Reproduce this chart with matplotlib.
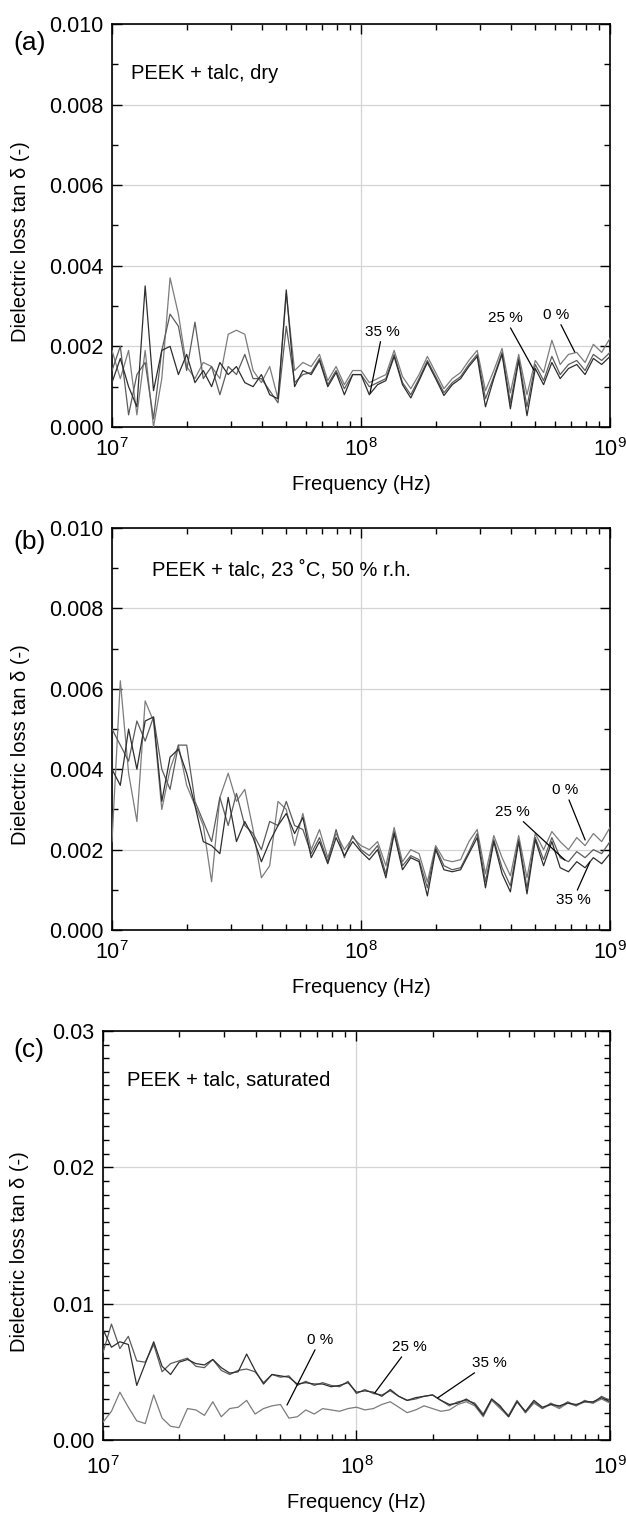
import numpy as np
import matplotlib
matplotlib.use("Agg")
import matplotlib.pyplot as plt
from matplotlib.ticker import LogLocator, MultipleLocator, NullFormatter, FormatStrFormatter

plt.rcParams['font.family'] = ['Liberation Sans', 'DejaVu Sans']
plt.rcParams['mathtext.fontset'] = 'custom'
plt.rcParams['mathtext.rm'] = 'Liberation Sans'
plt.rcParams['mathtext.it'] = 'Liberation Sans:italic'

# measurement grid (MHz)
freq_mhz = [10.0, 10.8, 11.66, 12.59, 13.59, 14.68, 15.85, 17.11, 18.48, 19.95,
            21.54, 23.26, 25.12, 27.12, 29.29, 31.62, 34.15, 36.87, 39.81, 42.99,
            46.42, 50.12, 54.12, 58.43, 63.1, 68.13, 73.56, 79.43, 85.77, 92.61,
            100.0, 108.0, 116.6, 125.9, 135.9, 146.8, 158.5, 171.1, 184.8, 199.5,
            215.4, 232.6, 251.2, 271.2, 292.9, 316.2, 341.5, 368.7, 398.1, 429.9,
            464.2, 501.2, 541.2, 584.3, 631.0, 681.3, 735.6, 794.3, 857.7, 926.1,
            1000.0]

# tan delta values in units of 1e-3
# (a) dry
a_0 = [1.9, 1.2, 1.9, 0.3, 1.9, 0.0, 1.2, 3.7, 2.8, 1.5, 1.2, 1.6, 1.5, 1.2, 2.3, 2.4,
       2.3, 1.4, 1.1, 1.5, 0.7, 3.3, 1.4, 1.6,
       1.5, 1.8, 1.15, 1.5, 1.05, 1.4, 1.4, 1.1, 1.2, 1.3, 1.9, 1.25, 0.95, 1.3, 1.75,
       1.35, 0.95, 1.2, 1.35, 1.65, 1.9, 0.9, 1.4, 1.95, 0.85, 1.8, 0.8, 1.65, 1.35,
       2.15, 1.55, 1.8, 1.85, 1.6, 2.05, 1.85, 2.2]
a_25 = [1.4, 2.0, 0.3, 1.3, 1.6, 0.2, 1.9, 2.8, 2.5, 1.4, 2.6, 1.2, 1.5, 0.8, 1.5, 1.3,
        1.8, 1.2, 1.2, 0.9, 0.6, 2.5, 1.1, 1.3,
        1.35, 1.7, 1.05, 1.4, 0.95, 1.3, 1.3, 1.0, 1.1, 1.2, 1.8, 1.1, 0.8, 1.2, 1.65,
        1.25, 0.85, 1.1, 1.25, 1.55, 1.8, 0.7, 1.25, 1.85, 0.6, 1.7, 0.5, 1.55, 1.15,
        1.75, 1.3, 1.55, 1.65, 1.4, 1.8, 1.65, 1.85]
a_35 = [1.1, 1.7, 1.0, 0.5, 3.5, 0.9, 1.9, 2.0, 1.3, 1.8, 1.1, 1.4, 1.0, 1.6, 1.3, 1.5,
        1.1, 1.0, 1.3, 0.8, 0.7, 3.4, 1.0, 1.4,
        1.3, 1.65, 1.0, 1.35, 0.8, 1.3, 1.3, 0.8, 1.05, 1.15, 1.75, 1.05, 0.72, 1.15, 1.6,
        1.2, 0.78, 1.05, 1.2, 1.5, 1.75, 0.5, 1.2, 1.8, 0.45, 1.65, 0.28, 1.45, 1.05,
        1.6, 1.2, 1.45, 1.55, 1.3, 1.7, 1.55, 1.75]

# (b) 23 C, 50 % r.h.
b_0 = [2.2, 6.2, 3.9, 2.7, 5.7, 5.2, 3.0, 4.0, 4.6, 3.6, 3.1, 2.6, 1.2, 3.3, 3.9, 3.2,
       3.5, 2.5, 1.3, 1.6, 3.2, 3.0, 2.1, 2.9,
       2.0, 2.5, 1.8, 2.4, 2.0, 2.3, 2.1, 2.0, 2.2, 1.6, 2.55, 1.7, 2.0, 1.9, 1.2, 2.1,
       1.75, 1.7, 1.75, 2.2, 2.5, 1.4, 2.35, 1.8, 1.35, 2.35, 1.3, 2.4, 2.0, 2.45,
       2.2, 2.0, 2.3, 2.1, 2.4, 2.2, 2.55]
b_25 = [5.0, 4.6, 4.2, 5.2, 4.7, 5.3, 4.0, 3.5, 4.6, 4.6, 3.2, 2.7, 2.2, 3.3, 2.6, 3.4,
        2.6, 2.4, 2.0, 2.7, 2.6, 3.2, 2.6, 2.5,
        1.9, 2.3, 1.7, 2.5, 1.8, 2.35, 2.0, 1.85, 2.1, 1.4, 2.45, 1.6, 1.85, 1.75, 1.05,
        2.05, 1.6, 1.5, 1.55, 1.95, 2.4, 1.2, 2.25, 1.55, 1.1, 2.25, 1.05, 2.3, 1.75, 2.3,
        1.8, 1.7, 1.95, 1.8, 2.0, 1.9, 2.2]
b_35 = [4.0, 3.6, 5.0, 4.0, 5.2, 5.3, 3.2, 4.3, 4.5, 3.9, 3.1, 2.2, 2.1, 1.9, 3.3, 2.2,
        2.7, 2.3, 1.7, 2.2, 2.6, 2.9, 2.4, 2.8,
        1.8, 2.2, 1.65, 2.3, 1.85, 2.2, 1.95, 1.75, 2.0, 1.3, 2.4, 1.5, 1.8, 1.7, 0.85,
        2.0, 1.5, 1.45, 1.5, 1.9, 2.3, 1.05, 2.2, 1.4, 0.95, 2.2, 0.9, 2.25, 1.6, 2.2,
        1.55, 1.45, 1.7, 1.55, 1.8, 1.65, 1.9]

# (c) saturated
c_0 = [1.3, 2.1, 3.5, 2.4, 1.4, 1.2, 3.3, 1.6, 1.0, 0.9, 2.3, 2.2, 1.8, 2.8, 1.7, 2.3,
       2.4, 2.9, 1.9, 2.3, 2.5, 2.6, 1.6, 1.7, 2.2, 1.9, 2.3, 2.2, 2.1, 2.3, 2.4, 2.2,
       2.3, 2.6, 2.8, 2.4, 2.0, 2.2, 2.5, 2.3, 2.1, 2.2, 2.6, 2.8, 2.5, 1.7, 2.9, 2.3,
       1.7, 2.8, 2.0, 2.7, 2.3, 2.6, 2.3, 2.7, 2.5, 2.8, 2.7, 3.0, 2.7]
c_25 = [6.4, 8.5, 6.7, 7.6, 5.8, 5.7, 7.0, 5.0, 5.6, 5.8, 6.0, 5.4, 5.3, 5.9, 5.1, 4.8,
        5.1, 5.2, 5.0, 4.2, 4.8, 4.6, 4.7, 4.0, 4.3, 4.0, 4.2, 4.0, 3.9, 4.3, 3.4, 3.7,
        3.4, 3.3, 3.6, 3.2, 2.9, 3.0, 3.2, 3.3, 2.9, 2.5, 2.8, 2.9, 2.7, 1.9, 3.0, 2.4,
        1.8, 2.9, 2.0, 2.8, 2.3, 2.7, 2.4, 2.8, 2.5, 2.9, 2.7, 3.2, 2.9]
c_35 = [8.1, 6.8, 7.2, 7.0, 4.0, 5.6, 7.2, 5.4, 4.8, 5.7, 5.9, 5.6, 5.5, 5.9, 5.3, 4.9,
        5.0, 6.3, 5.1, 4.1, 4.8, 4.7, 4.6, 4.1, 4.2, 4.1, 4.1, 3.9, 4.0, 4.2, 3.5, 3.6,
        3.5, 3.2, 3.7, 3.2, 2.9, 3.1, 3.2, 3.3, 2.9, 2.6, 2.7, 3.0, 2.6, 1.8, 3.0, 2.5,
        1.7, 2.8, 2.1, 2.9, 2.4, 2.6, 2.5, 2.7, 2.6, 2.8, 2.8, 3.1, 2.8]

f = np.array(freq_mhz) * 1e6
colors = {'0': '#7c7c7c', '25': '#5c5c5c', '35': '#2e2e2e'}

fig = plt.figure(figsize=(6.26, 15.13), dpi=100)

panels = [
    dict(rect=[0.1789, 0.7178, 0.7955, 0.2664], data=(a_0, a_25, a_35), ymax=0.010,
         major=0.002, fmt='%.3f', letter='(a)', ly=0.9716, title='PEEK + talc, dry',
         tpos=(0.039, 0.878),
         labels=[('35 %', (1.22e8, 2.36e-3), (1.087e8, 0.84e-3)),
                 ('25 %', (3.79e8, 2.70e-3), (4.95e8, 1.41e-3)),
                 ('0 %', (6.07e8, 2.78e-3), (7.22e8, 1.86e-3))],
         xpad=8, ylab_x=-0.165, xlab_y=-0.12),
    dict(rect=[0.1789, 0.3853, 0.7955, 0.2657], data=(b_0, b_25, b_35), ymax=0.010,
         major=0.002, fmt='%.3f', letter='(b)', ly=0.6418,
         title='PEEK + talc, 23 \u02daC, 50 % r.h.', tpos=(0.08, 0.896),
         labels=[('0 %', (6.6e8, 3.48e-3), (7.95e8, 2.24e-3)),
                 ('25 %', (4.07e8, 2.94e-3), (6.59e8, 1.74e-3)),
                 ('35 %', (7.1e8, 0.75e-3), (8.3e8, 1.69e-3))],
         xpad=8, ylab_x=-0.165, xlab_y=-0.12),
    dict(rect=[0.1645, 0.0483, 0.8099, 0.2703], data=(c_0, c_25, c_35), ymax=0.03,
         major=0.01, fmt='%.2f', letter='(c)', ly=0.306,
         title='PEEK + talc, saturated', tpos=(0.047, 0.88),
         labels=[('0 %', (7.18e7, 7.33e-3), (5.32e7, 2.56e-3)),
                 ('25 %', (1.61e8, 6.81e-3), (1.18e8, 3.44e-3)),
                 ('35 %', (3.33e8, 5.64e-3), (2.09e8, 3.08e-3))],
         xpad=12, ylab_x=-0.145, xlab_y=-0.13),
]

for p in panels:
    ax = fig.add_axes(p['rect'])
    d0, d25, d35 = p['data']
    ax.plot(f, np.array(d0) * 1e-3, color=colors['0'], lw=0.9, zorder=3)
    ax.plot(f, np.array(d25) * 1e-3, color=colors['25'], lw=0.9, zorder=3)
    ax.plot(f, np.array(d35) * 1e-3, color=colors['35'], lw=0.9, zorder=3)

    ax.set_xscale('log')
    ax.set_xlim(1e7, 1e9)
    ax.set_ylim(0, p['ymax'])
    ax.xaxis.set_major_locator(LogLocator(base=10, numticks=5))
    ax.xaxis.set_minor_locator(LogLocator(base=10, subs=np.arange(2, 10), numticks=20))
    ax.xaxis.set_minor_formatter(NullFormatter())
    ax.yaxis.set_major_locator(MultipleLocator(p['major']))
    ax.yaxis.set_minor_locator(MultipleLocator(0.001))
    ax.yaxis.set_major_formatter(FormatStrFormatter(p['fmt']))

    ax.grid(True, which='major', color='#d4d4d4', lw=0.9, zorder=0)
    ax.tick_params(which='both', direction='in', top=True, right=True, width=1.0)
    ax.tick_params(which='major', length=7)
    ax.tick_params(which='minor', length=4)
    ax.tick_params(axis='y', labelsize=15.5, pad=6)
    ax.tick_params(axis='x', labelsize=15.5, pad=p['xpad'])
    for s in ax.spines.values():
        s.set_linewidth(1.2)

    ax.set_xlabel('Frequency (Hz)', fontsize=14.5)
    ax.xaxis.set_label_coords(0.5, p['xlab_y'])
    ax.set_ylabel('Dielectric loss tan \u03b4 (-)', fontsize=14.5)
    ax.yaxis.set_label_coords(p['ylab_x'], 0.46)

    ax.text(p['tpos'][0], p['tpos'][1], p['title'], transform=ax.transAxes,
            fontsize=14.5, ha='left', va='center')
    fig.text(0.022, p['ly'], p['letter'], fontsize=19, ha='left', va='center')

    for txt, xytext, xy in p['labels']:
        ax.annotate(txt, xy=xy, xytext=xytext, ha='center', va='center', fontsize=11,
                    arrowprops=dict(arrowstyle='-', color='black', lw=0.9,
                                    shrinkA=0, shrinkB=0))

fig.savefig('out.png', dpi=100)
